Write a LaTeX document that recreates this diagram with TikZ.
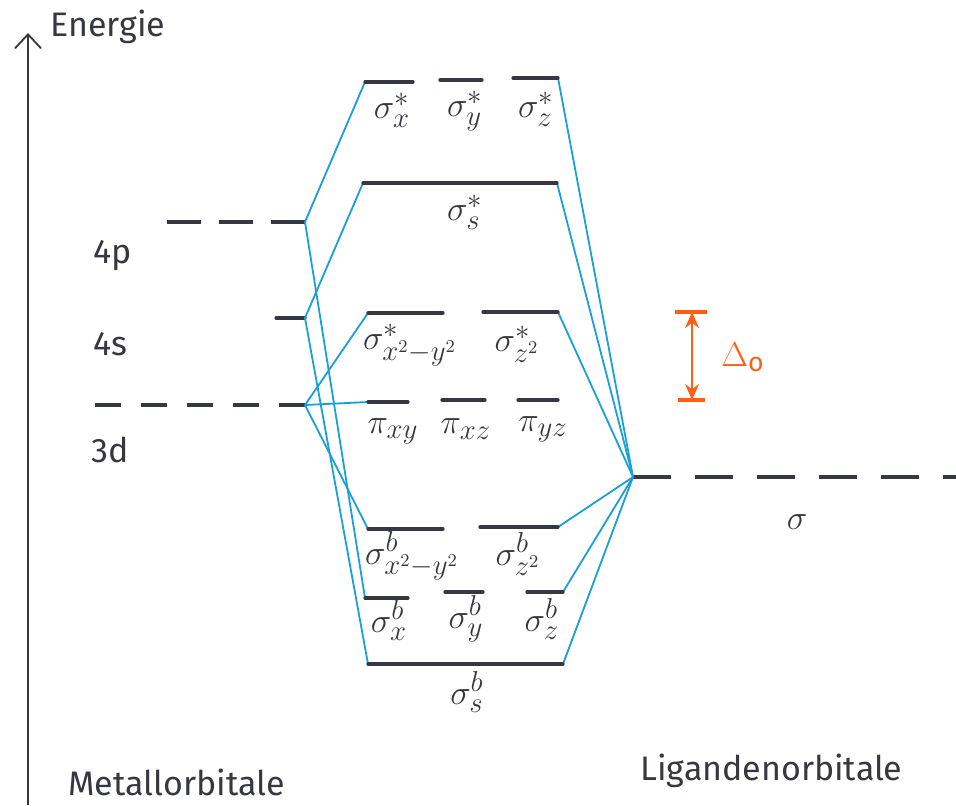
\documentclass[tikz,border=0pt]{standalone}
\usepackage{fontspec}
\setmainfont{Fira Sans}
\usetikzlibrary{arrows.meta}
\definecolor{mocol}{RGB}{25,160,215}
\definecolor{lvcol}{RGB}{55,55,65}
\definecolor{dcol}{RGB}{255,95,20}
\tikzset{
  level/.style={draw=lvcol, line width=1.6pt, line cap=round},
  conn/.style={draw=mocol, line width=0.9pt},
  lbl/.style={font=\fontsize{19}{23}\selectfont, inner sep=0pt, text=lvcol},
  txt/.style={font=\fontsize{17}{20}\selectfont, inner sep=0pt, text=lvcol},
}
\begin{document}
\begin{tikzpicture}[x=0.5pt,y=-0.5pt]
\useasboundingbox (0,0) rectangle (956,805);
% axis
\coordinate (axb) at (28,805);
\coordinate (axt) at (28,33);
\draw[lvcol, line width=0.9pt, -{Straight Barb[length=7pt,width=13pt]}] (axb) -- (axt);
\node[txt, anchor=base west] (energie) at (50,36) {Energie};
% metal levels
\coordinate (p4) at (305,222);
\coordinate (p4e) at (165,222);
\coordinate (s4) at (305,318);
\coordinate (s4e) at (276,318);
\coordinate (d3) at (305,405);
\coordinate (d3e) at (92,405);
\draw[draw=lvcol, line width=1.6pt, dash pattern=on 17pt off 9pt] (p4) -- (p4e);
\draw[level] (s4) -- (s4e);
\draw[draw=lvcol, line width=1.6pt, dash pattern=on 13pt off 10pt] (d3) -- (d3e);
\node[txt] (l4p) at (113,256) {4p};
\node[txt] (l4s) at (110,344) {4s};
\node[txt] (l3d) at (110,450) {3d};
% ligand level
\coordinate (lig) at (633,477);
\coordinate (lige) at (956,477);
\draw[draw=lvcol, line width=1.6pt, dash pattern=on 19pt off 12pt] (lig) -- (lige);
\node[lbl] (lsig) at (797,522) {$\sigma$};
% MO levels
\coordinate (sxL) at (365,82);  \coordinate (sxR) at (413,82);
\coordinate (syL) at (440,80);  \coordinate (syR) at (482,80);
\coordinate (szL) at (513,78);  \coordinate (szR) at (558,78);
\coordinate (ssL) at (363,183); \coordinate (ssR) at (557,183);
\coordinate (sdL) at (368,313); \coordinate (sdR) at (443,313);
\coordinate (sqL) at (483,312); \coordinate (sqR) at (558,312);
\coordinate (pxyL) at (368,402); \coordinate (pxyR) at (408,402);
\coordinate (pxzL) at (442,400); \coordinate (pxzR) at (485,400);
\coordinate (pyzL) at (518,400); \coordinate (pyzR) at (558,400);
\coordinate (bdL) at (368,529); \coordinate (bdR) at (443,529);
\coordinate (bqL) at (480,527); \coordinate (bqR) at (558,527);
\coordinate (bxL) at (365,598); \coordinate (bxR) at (408,598);
\coordinate (byL) at (445,592); \coordinate (byR) at (483,592);
\coordinate (bzL) at (527,592); \coordinate (bzR) at (563,592);
\coordinate (bsL) at (368,664); \coordinate (bsR) at (563,664);
% connectors (metal)
\draw[conn] (p4) -- (sxL);
\draw[conn] (p4) -- (bxL);
\draw[conn] (s4) -- (ssL);
\draw[conn] (s4) -- (bsL);
\draw[conn] (d3) -- (sdL);
\draw[conn] (d3) -- (pxyL);
\draw[conn] (d3) -- (bdL);
% connectors (ligand)
\draw[conn] (lig) -- (szR);
\draw[conn] (lig) -- (ssR);
\draw[conn] (lig) -- (sqR);
\draw[conn] (lig) -- (bqR);
\draw[conn] (lig) -- (bzR);
\draw[conn] (lig) -- (bsR);
% level lines
\foreach \a in {sx,sy,sz,ss,sd,sq,pxy,pxz,pyz,bd,bq,bx,by,bz,bs}
  \draw[level] (\a L) -- (\a R);
% MO labels
\node[lbl] (tsx) at (392,110) {$\sigma^{\ast}_{x}$};
\node[lbl] (tsy) at (465,111) {$\sigma^{\ast}_{y}$};
\node[lbl] (tsz) at (536,109) {$\sigma^{\ast}_{z}$};
\node[lbl] (tss) at (465,212) {$\sigma^{\ast}_{s}$};
\node[lbl] (tsd) at (410,345) {$\sigma^{\ast}_{x^2-y^2}$};
\node[lbl] (tsq) at (517,344) {$\sigma^{\ast}_{z^2}$};
\node[lbl] (tpxy) at (393,431) {$\pi_{xy}$};
\node[lbl] (tpxz) at (466,429) {$\pi_{xz}$};
\node[lbl] (tpyz) at (543,429) {$\pi_{yz}$};
\node[lbl] (tbd) at (412,556) {$\sigma^{b}_{x^2-y^2}$};
\node[lbl] (tbq) at (518,554) {$\sigma^{b}_{z^2}$};
\node[lbl] (tbx) at (389,620) {$\sigma^{b}_{x}$};
\node[lbl] (tby) at (466,619) {$\sigma^{b}_{y}$};
\node[lbl] (tbz) at (542,619) {$\sigma^{b}_{z}$};
\node[lbl] (tbs) at (467,692) {$\sigma^{b}_{s}$};
% Delta_o
\coordinate (dtop) at (692,312);
\coordinate (dbot) at (692,400);
\draw[dcol, line width=1.6pt] (675,312) -- (707,312);
\draw[dcol, line width=1.6pt] (678,400) -- (705,400);
\draw[dcol, line width=1pt, {Stealth[length=8pt,width=7pt]}-{Stealth[length=8pt,width=7pt]}] (dtop) -- (dbot);
\node[lbl, text=dcol] (delta) at (743,357) {$\Delta_{\mathrm{o}}$};
% bottom labels
\node[txt, anchor=base west] (metal) at (68,795) {Metallorbitale};
\node[txt, anchor=base west] (ligand) at (640,780) {Ligandenorbitale};
\end{tikzpicture}
\end{document}
